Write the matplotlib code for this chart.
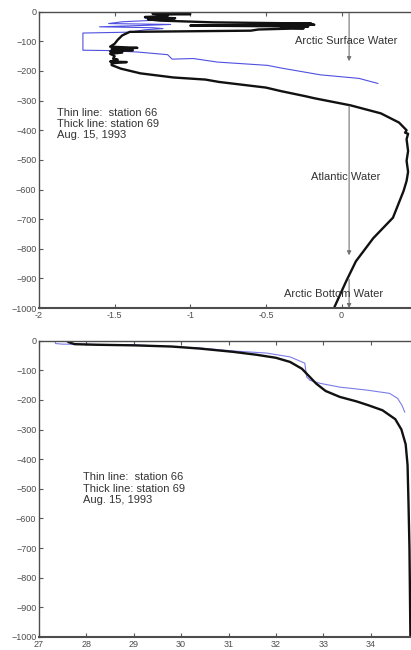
import numpy as np
import matplotlib
matplotlib.use('Agg')
import matplotlib.pyplot as plt

plt.rcParams['font.family'] = ['Liberation Sans', 'DejaVu Sans']

# station 66 (thin) and station 69 (thick) temperature profiles
temp66 = [-1.15, -1.22, -1.18, -1.25, -1.30, -1.20, -1.45, -1.54, -1.13, -1.35,
          -1.60, -1.25, -1.18, -1.30, -1.40, -1.71, -1.71, -1.55, -1.35, -1.15,
          -1.12, -0.98, -0.82, -0.49, -0.40, -0.14, 0.115, 0.24]
tdep66 = [-2, -6, -10, -16, -22, -28, -34, -40, -43, -47,
          -51, -54, -57, -61, -69, -72, -130, -131, -136, -145,
          -160, -158, -170, -181, -190, -213, -225, -242]

temp69 = [-1.20, -1.05, -1.25, -1.00, -1.22, -1.15, -1.30, -1.10, -1.28, -1.20,
          -0.85, -0.20, -0.60, -0.18, -1.00, -0.22, -0.40, -0.25, -0.55, -0.60,
          -1.40, -1.45, -1.48, -1.50, -1.53, -1.35, -1.52, -1.38, -1.53, -1.45,
          -1.53, -1.50, -1.51, -1.48, -1.53, -1.42, -1.52, -1.52, -1.46, -1.33,
          -1.11, -0.90, -0.81, -0.50, -0.40, -0.24, -0.18, 0.06, 0.26, 0.38,
          0.43, 0.42, 0.44, 0.43, 0.44, 0.43, 0.44, 0.43, 0.41, 0.34,
          0.21, 0.095, 0.03, -0.05]
tdep69 = [-2, -4, -6, -8, -10, -14, -18, -22, -26, -30,
          -36, -40, -42, -44, -47, -50, -53, -56, -60, -64,
          -68, -80, -95, -108, -118, -122, -126, -130, -134, -138,
          -142, -150, -158, -162, -168, -170, -174, -180, -192, -208,
          -222, -229, -237, -256, -268, -285, -292, -316, -343, -374,
          -400, -408, -412, -430, -470, -503, -540, -571, -605, -695,
          -764, -842, -910, -1000]

# salinity profiles
sal66 = [27.34, 27.35, 27.50, 28.98, 30.40, 31.10, 31.80, 32.30, 32.61, 32.65,
         32.72, 32.93, 33.35, 33.92, 34.40, 34.57, 34.66, 34.72]
sdep66 = [-2, -10, -12, -14, -25, -35, -42, -55, -76, -123,
          -134, -144, -157, -167, -178, -195, -218, -241]

sal69 = [27.59, 27.62, 27.75, 28.20, 29.00, 29.80, 30.40, 31.10, 31.60, 32.00,
         32.30, 32.55, 32.70, 32.85, 33.05, 33.35, 33.70, 33.95, 34.25, 34.52,
         34.65, 34.74, 34.78, 34.80, 34.82, 34.83, 34.84]
sdep69 = [0, -5, -12, -14, -16, -20, -27, -38, -48, -58,
          -72, -95, -120, -145, -170, -190, -205, -218, -235, -265,
          -300, -350, -420, -550, -700, -850, -1000]

yticks = list(range(0, -1001, -100))
temp_ticks = [-2, -1.5, -1, -0.5, 0]
sal_ticks = [27, 28, 29, 30, 31, 32, 33, 34]

# water mass labels: (name, x, depth) and arrows (x, start depth, end depth)
mass_names = ['Arctic Surface Water', 'Atlantic Water', 'Arctic Bottom Water']
mass_x = [0.03, 0.03, -0.055]
mass_y = [-100, -557, -953]
arrow_x = 0.05
arrow_from = [-5, -318, -903]
arrow_to = [-167, -822, -1000]

note = 'Thin line:  station 66\nThick line: station 69\nAug. 15, 1993'

fig = plt.figure(figsize=(4.11, 6.5), dpi=100)
ax1 = fig.add_axes([0.095, 0.526, 0.92, 0.456])
ax2 = fig.add_axes([0.095, 0.020, 0.922, 0.456])


def style(ax, xlim, xticks):
    ax.set_xlim(xlim)
    ax.set_ylim(-1000, 0)
    ax.set_xticks(xticks)
    ax.set_xticklabels([f'{t:g}' for t in xticks])
    ax.set_yticks(yticks)
    ax.tick_params(direction='in', length=3, width=0.8, top=True, right=True,
                   labelsize=6.5, labelcolor='0.3', color='0.35', pad=2)
    for s in ax.spines.values():
        s.set_color('0.3')
        s.set_linewidth(1.0)
    ax.spines['bottom'].set_linewidth(1.5)


ax1.plot(temp66, tdep66, color='#5050e0', lw=0.8)
ax1.plot(temp69, tdep69, color='#111111', lw=1.7)
for a, b in zip(arrow_from, arrow_to):
    ax1.annotate('', xy=(arrow_x, b), xytext=(arrow_x, a),
                 arrowprops=dict(arrowstyle='-|>', color='0.45', lw=0.8,
                                 mutation_scale=6, shrinkA=0, shrinkB=0))
for name, x, y in zip(mass_names, mass_x, mass_y):
    ax1.text(x, y, name, ha='center', va='center', fontsize=8, color='0.2')
ax1.text(-1.88, -325, note, ha='left', va='top', fontsize=8, color='0.2',
         linespacing=1.15)
style(ax1, (-2, 0.5), temp_ticks)

ax2.plot(sal66, sdep66, color='#5050e0', lw=0.8, alpha=0.75)
ax2.plot(sal69, sdep69, color='#111111', lw=1.7)
ax2.text(27.93, -445, note, ha='left', va='top', fontsize=8, color='0.2',
         linespacing=1.15)
style(ax2, (27, 35), sal_ticks)

fig.savefig('out.png', dpi=100)
